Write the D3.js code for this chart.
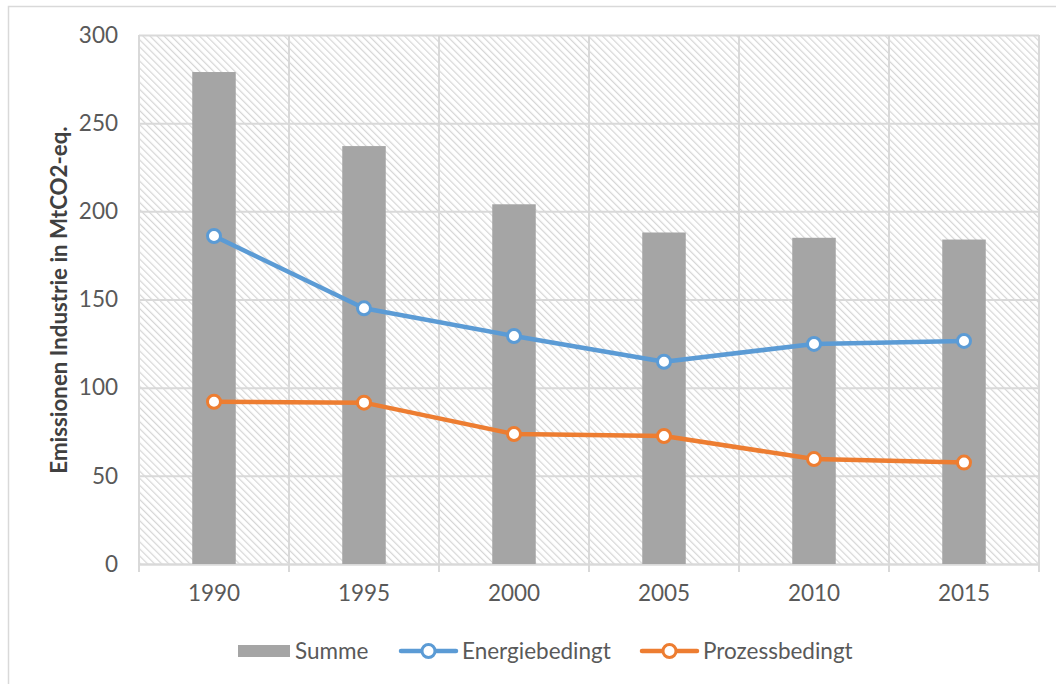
<!DOCTYPE html>
<html>
<head>
<meta charset="utf-8">
<script src="https://cdn.jsdelivr.net/npm/d3@7"></script>
<style>
  html, body { margin: 0; padding: 0; background: #fff; }
  svg { display: block; }
  text { font-family: Lato, "Open Sans", sans-serif; }
</style>
</head>
<body>
<svg id="chart" width="1056" height="684"></svg>
<script>
// Industrial emissions in Germany, MtCO2-eq.
const years = ["1990", "1995", "2000", "2005", "2010", "2015"];
const summe = [279, 237, 204, 188, 185, 184];
const energiebedingt = [186, 145, 129.3, 114.7, 124.8, 126.5];
const prozessbedingt = [92, 91.5, 73.7, 72.6, 59.5, 57.5];
const yTicks = [0, 50, 100, 150, 200, 250, 300];
const seriesNames = ["Summe", "Energiebedingt", "Prozessbedingt"];

const colors = { bar: "#a5a5a5", blue: "#5b9bd5", orange: "#ed7d31", grid: "#d9d9d9", text: "#595959" };

const svg = d3.select("#chart");
const plot = { left: 139, top: 35, right: 1039, bottom: 564 };

// outer chart frame
svg.append("rect")
  .attr("x", 8.5).attr("y", 6.5).attr("width", 1200).attr("height", 800)
  .attr("fill", "#fff").attr("stroke", colors.grid).attr("stroke-width", 1.5);

// downward diagonal hatch for the plot background
const defs = svg.append("defs");
const pat = defs.append("pattern")
  .attr("id", "hatch").attr("patternUnits", "userSpaceOnUse")
  .attr("width", 5).attr("height", 5)
  .attr("patternTransform", "rotate(-45)");
pat.append("rect").attr("width", 5).attr("height", 5).attr("fill", "#fff");
pat.append("line").attr("x1", 0).attr("y1", 0).attr("x2", 0).attr("y2", 5)
  .attr("stroke", "#d6d6d6").attr("stroke-width", 2.4);

const x = d3.scaleBand().domain(years).range([plot.left, plot.right]).padding(0);
const y = d3.scaleLinear().domain([0, 300]).range([plot.bottom, plot.top]);

svg.append("rect")
  .attr("x", plot.left).attr("y", plot.top)
  .attr("width", plot.right - plot.left).attr("height", plot.bottom - plot.top)
  .attr("fill", "url(#hatch)");

// horizontal gridlines + y tick labels
const yAxis = svg.append("g")
  .attr("transform", `translate(${plot.left},0)`)
  .call(d3.axisLeft(y).tickValues(yTicks).tickSize(-(plot.right - plot.left)).tickPadding(21));
yAxis.select(".domain").remove();
yAxis.selectAll(".tick line").attr("stroke", colors.grid).attr("stroke-width", 2);
yAxis.selectAll(".tick text")
  .attr("fill", colors.text).attr("font-size", 22.5)
  .style("font-family", "Lato, sans-serif");

// vertical gridlines at category boundaries, extended below the axis as tick marks
const bounds = years.map(d => x(d)).concat([plot.right]);
svg.append("g").selectAll("line").data(bounds).join("line")
  .attr("x1", d => d).attr("x2", d => d)
  .attr("y1", plot.top).attr("y2", plot.bottom + 8)
  .attr("stroke", colors.grid).attr("stroke-width", 2);

// x axis category labels
const xAxis = svg.append("g")
  .attr("transform", `translate(0,${plot.bottom})`)
  .call(d3.axisBottom(x).tickSize(0).tickPadding(21));
xAxis.select(".domain").attr("stroke", colors.grid).attr("stroke-width", 2);
xAxis.selectAll(".tick text")
  .attr("fill", colors.text).attr("font-size", 22.5)
  .style("font-family", "Lato, sans-serif");

// bars (total)
const barW = x.bandwidth() * 0.29;
svg.append("g").selectAll("rect").data(years).join("rect")
  .attr("x", (d) => x(d) + x.bandwidth() / 2 - barW / 2)
  .attr("width", barW)
  .attr("y", (d, i) => y(summe[i]))
  .attr("height", (d, i) => y(0) - y(summe[i]))
  .attr("fill", colors.bar);

// line series
function drawSeries(values, color) {
  const pts = years.map((d, i) => [x(d) + x.bandwidth() / 2, y(values[i])]);
  svg.append("path")
    .attr("d", d3.line()(pts))
    .attr("fill", "none").attr("stroke", color).attr("stroke-width", 4.5)
    .attr("stroke-linejoin", "round").attr("stroke-linecap", "round");
  svg.append("g").selectAll("circle").data(pts).join("circle")
    .attr("cx", p => p[0]).attr("cy", p => p[1]).attr("r", 6.5)
    .attr("fill", "#fff").attr("stroke", color).attr("stroke-width", 3);
}
drawSeries(energiebedingt, colors.blue);
drawSeries(prozessbedingt, colors.orange);

// y axis title
svg.append("text")
  .attr("transform", `translate(67,300) rotate(-90)`)
  .attr("text-anchor", "middle")
  .attr("font-size", 22.3).attr("font-weight", "bold")
  .attr("fill", "#404040")
  .text("Emissionen Industrie in MtCO2-eq.");

// legend
const legY = 651;
const leg = svg.append("g");
leg.append("rect").attr("x", 238).attr("y", legY - 6).attr("width", 52).attr("height", 12).attr("fill", colors.bar);
leg.append("text").attr("x", 295).attr("y", legY).attr("dy", "0.35em")
  .attr("font-size", 22.5).attr("fill", colors.text).text(seriesNames[0]);

[[401, colors.blue, seriesNames[1]], [642, colors.orange, seriesNames[2]]].forEach(([lx, c, name]) => {
  leg.append("line").attr("x1", lx).attr("x2", lx + 55).attr("y1", legY).attr("y2", legY)
    .attr("stroke", c).attr("stroke-width", 4.5).attr("stroke-linecap", "round");
  leg.append("circle").attr("cx", lx + 27.5).attr("cy", legY).attr("r", 6.5)
    .attr("fill", "#fff").attr("stroke", c).attr("stroke-width", 3);
  leg.append("text").attr("x", lx + 61).attr("y", legY).attr("dy", "0.35em")
    .attr("font-size", 22.5).attr("fill", colors.text).text(name);
});
</script>
</body>
</html>
